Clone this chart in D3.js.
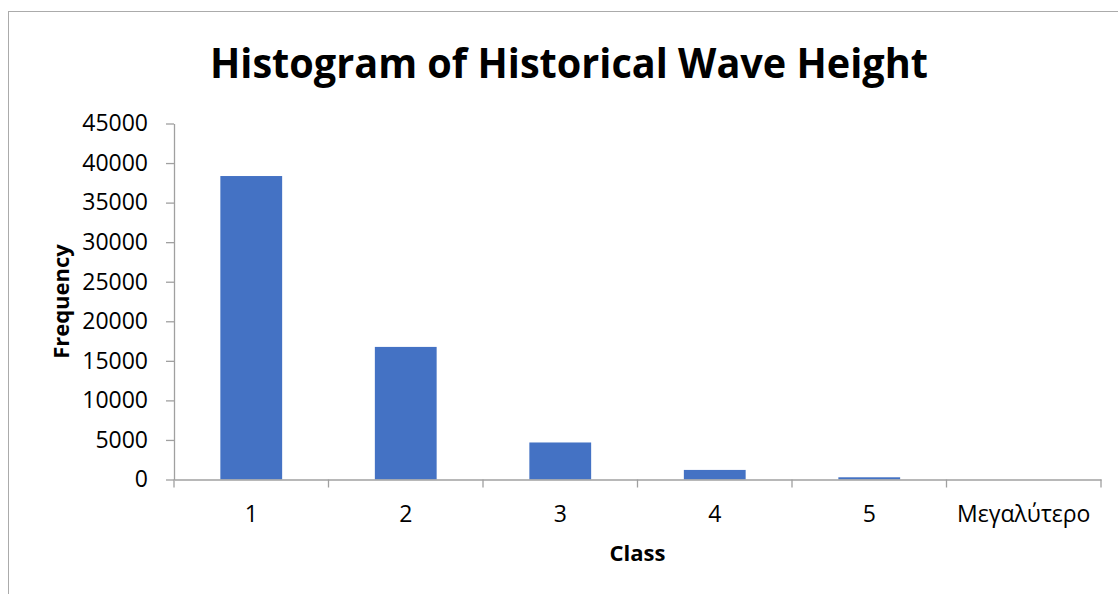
<!DOCTYPE html>
<html>
<head>
<meta charset="utf-8">
<script src="https://cdn.jsdelivr.net/npm/d3@7/dist/d3.min.js"></script>
<style>
  html, body { margin: 0; padding: 0; background: #fff; }
  svg { display: block; }
  text { font-family: "Open Sans", "Noto Sans", sans-serif; fill: #000; }
</style>
</head>
<body>
<svg id="chart" width="1118" height="594"></svg>
<script>
// Histogram bins and their counts
const categories = ["1", "2", "3", "4", "5", "Μεγαλύτερο"];
const frequency = [38360, 16760, 4680, 1210, 280, 0];
const yTicks = [0, 5000, 10000, 15000, 20000, 25000, 30000, 35000, 40000, 45000];

const titleText = "Histogram of Historical Wave Height";
const xTitle = "Class";
const yTitle = "Frequency";

const svg = d3.select("#chart");
const W = 1118, H = 594;

// chart frame (runs off the right and bottom edges)
svg.append("rect")
  .attr("x", 8.5).attr("y", 11.5)
  .attr("width", W + 20).attr("height", H + 20)
  .attr("fill", "#fff")
  .attr("stroke", "#ababab")
  .attr("stroke-width", 1);

const plot = { left: 174, right: 1101, top: 123.5, bottom: 479.5 };

const x = d3.scaleBand()
  .domain(categories)
  .range([plot.left, plot.right])
  .paddingInner(0.6)
  .paddingOuter(0.3);

const y = d3.scaleLinear()
  .domain([0, 45000])
  .range([plot.bottom, plot.top]);

const axisColor = "#a0a0a0";

// bars
svg.append("g")
  .selectAll("rect")
  .data(categories.map((c, i) => ({ c, v: frequency[i] })))
  .join("rect")
  .attr("x", d => x(d.c))
  .attr("width", x.bandwidth())
  .attr("y", d => y(d.v))
  .attr("height", d => y(0) - y(d.v))
  .attr("fill", "#4472C4");

// y axis
const yAxis = svg.append("g")
  .attr("transform", `translate(${plot.left},0)`)
  .call(d3.axisLeft(y).tickValues(yTicks).tickFormat(d3.format("d"))
    .tickSize(8).tickSizeOuter(0).tickPadding(18));
yAxis.select(".domain").attr("stroke", axisColor).attr("stroke-width", 1.3);
yAxis.selectAll(".tick line").attr("stroke", axisColor).attr("stroke-width", 1.3);
yAxis.selectAll(".tick text")
  .style("font-family", "'Open Sans', sans-serif")
  .style("font-size", "23px")
  .attr("fill", "#000");

// x axis: line, boundary ticks between bins, labels at bin centres
const xAxis = svg.append("g")
  .attr("transform", `translate(0,${plot.bottom})`)
  .call(d3.axisBottom(x).tickSize(0).tickSizeOuter(0).tickPadding(26));
xAxis.select(".domain").attr("stroke", axisColor).attr("stroke-width", 1.3);
xAxis.selectAll(".tick text")
  .style("font-family", "'Open Sans', sans-serif")
  .style("font-size", "23px")
  .attr("fill", "#000");

const step = x.step();
const x0 = x.range()[0];
xAxis.append("g")
  .selectAll("line")
  .data(d3.range(categories.length + 1))
  .join("line")
  .attr("x1", i => x0 + i * step)
  .attr("x2", i => x0 + i * step)
  .attr("y1", 0).attr("y2", 8)
  .attr("stroke", axisColor)
  .attr("stroke-width", 1.3);

// titles
const title = svg.append("text")
  .attr("x", 569).attr("y", 78)
  .attr("text-anchor", "middle")
  .style("font-family", "'Open Sans', sans-serif")
  .style("font-weight", "700")
  .style("font-size", "42px")
  .attr("textLength", 718)
  .attr("lengthAdjust", "spacingAndGlyphs")
  .text(titleText);

svg.append("text")
  .attr("x", (plot.left + plot.right) / 2).attr("y", 561)
  .attr("text-anchor", "middle")
  .style("font-weight", "700")
  .style("font-size", "22px")
  .text(xTitle);

svg.append("text")
  .attr("transform", `translate(69,${(plot.top + plot.bottom) / 2}) rotate(-90)`)
  .attr("text-anchor", "middle")
  .style("font-weight", "700")
  .style("font-size", "22px")
  .text(yTitle);
</script>
</body>
</html>
